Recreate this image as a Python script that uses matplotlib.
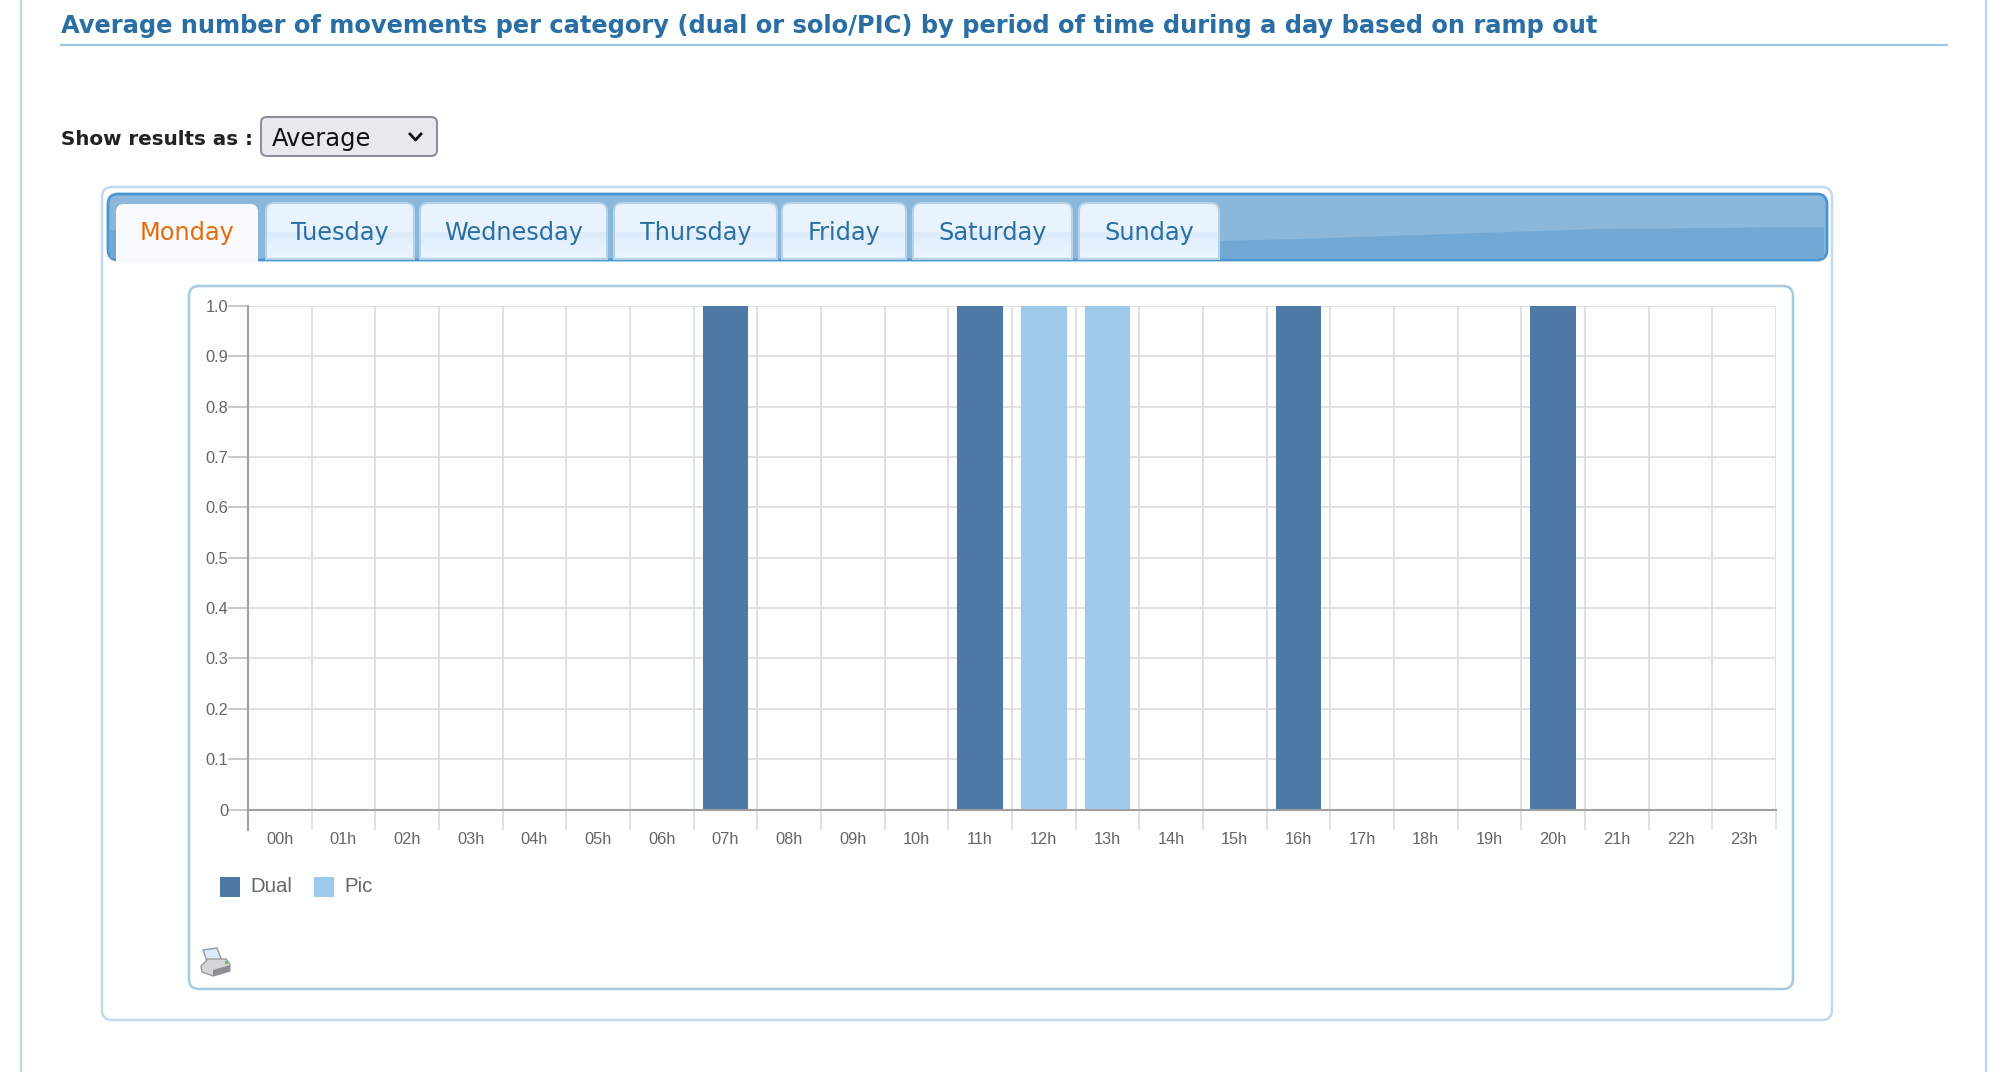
import numpy as np
import matplotlib
matplotlib.use("Agg")
import matplotlib.pyplot as plt
from matplotlib.patches import FancyBboxPatch, Rectangle, Polygon, PathPatch
from matplotlib.path import Path

hours = ['00h', '01h', '02h', '03h', '04h', '05h', '06h', '07h', '08h', '09h', '10h', '11h',
         '12h', '13h', '14h', '15h', '16h', '17h', '18h', '19h', '20h', '21h', '22h', '23h']
dual = [0, 0, 0, 0, 0, 0, 0, 1, 0, 0, 0, 1, 0, 0, 0, 0, 1, 0, 0, 0, 1, 0, 0, 0]
pic = [0, 0, 0, 0, 0, 0, 0, 0, 0, 0, 0, 0, 1, 1, 0, 0, 0, 0, 0, 0, 0, 0, 0, 0]
y_ticks = [0, 0.1, 0.2, 0.3, 0.4, 0.5, 0.6, 0.7, 0.8, 0.9, 1.0]
y_labels = ['0', '0.1', '0.2', '0.3', '0.4', '0.5', '0.6', '0.7', '0.8', '0.9', '1.0']
days = ['Monday', 'Tuesday', 'Wednesday', 'Thursday', 'Friday', 'Saturday', 'Sunday']
tab_left = [116, 266, 420, 614, 782, 913, 1079]
tab_right = [258, 414, 607, 777, 906, 1072, 1219]

W, H = 2010, 1072
DUAL_COLOR = '#4e79a7'
PIC_COLOR = '#a0caeb'
BG = '#fdfefe'

fig = plt.figure(figsize=(W / 100, H / 100), dpi=100, facecolor=BG)

# page furniture, in pixel coordinates
bg = fig.add_axes([0, 0, 1, 1])
bg.set_xlim(0, W)
bg.set_ylim(H, 0)
bg.axis('off')


def rounded(x0, y0, x1, y1, r=8, **kw):
    p = FancyBboxPatch((x0 + r, y0 + r), x1 - x0 - 2 * r, y1 - y0 - 2 * r,
                       boxstyle=f'round,pad={r},rounding_size={r}', **kw)
    bg.add_patch(p)
    return p


def top_rounded(x0, y0, x1, y1, r=8):
    verts = [(x0, y1), (x0, y0 + r), (x0, y0), (x0 + r, y0), (x1 - r, y0), (x1, y0), (x1, y0 + r), (x1, y1), (x0, y1)]
    codes = [Path.MOVETO, Path.LINETO, Path.CURVE3, Path.CURVE3, Path.LINETO, Path.CURVE3, Path.CURVE3, Path.LINETO, Path.CLOSEPOLY]
    return Path(verts, codes)


# side rules of the page
bg.plot([20.5, 20.5], [0, H], color='#bcd6ec', lw=1.6)
bg.plot([1986, 1986], [0, H], color='#bcd6ec', lw=1.6)

bg.text(61, 33, 'Average number of movements per category (dual or solo/PIC) by period of time during a day based on ramp out',
        fontsize=17.33, fontweight='bold', color='#2a6ea3', family='DejaVu Sans', va='baseline')
bg.plot([61, 1947], [45, 45], color='#9fc6e4', lw=1.6)

bg.text(61, 145, 'Show results as :', fontsize=14.3, fontweight='bold', color='#222222', family='DejaVu Sans', va='baseline')
rounded(261, 117, 437, 156, r=6, fc='#e9e8ed', ec='#8f8d9c', lw=1.5)
bg.text(272, 146, 'Average', fontsize=17.4, color='#111111', family='DejaVu Sans', va='baseline')
bg.plot([410, 415.5, 421], [134, 140, 134], color='#111111', lw=2)

# outer panel and tab bar
rounded(102, 187, 1832, 1020, r=10, fc=BG, ec='#c4daec', lw=1.8)
rounded(108, 194, 1827, 260, r=10, fc='#8ab7da', ec='#4a96d3', lw=2, zorder=2)
wave = [(1219, 258), (1219, 241), (1300, 239), (1450, 234), (1600, 229), (1824, 227), (1824, 258)]
bg.add_patch(Polygon(wave, closed=True, fc='#72a9d4', ec='none', zorder=2.1))
bg.add_patch(Rectangle((110, 230), 8, 28, fc='#72a9d4', ec='none', zorder=2.1))

for i, day in enumerate(days):
    x0, x1 = tab_left[i], tab_right[i]
    if i == 0:
        bg.add_patch(PathPatch(top_rounded(x0, 204, x1, 262), fc='#f8fafd', ec='none', zorder=3))
        color = '#e36c09'
    else:
        bg.add_patch(PathPatch(top_rounded(x0, 203, x1, 259), fc='#e9f3fd', ec='#b5d2ea', lw=1.5, zorder=3))
        # soft band across the lower half of the tab
        bg.add_patch(Rectangle((x0 + 1, 232), x1 - x0 - 2, 6, fc='#dcecfb', ec='none', zorder=3.1))
        bg.add_patch(Rectangle((x0 + 1, 238), x1 - x0 - 2, 6, fc='#e1eefb', ec='none', zorder=3.1))
        bg.add_patch(Rectangle((x0 + 1, 244), x1 - x0 - 2, 6, fc='#e5f1fc', ec='none', zorder=3.1))
        color = '#2a6ea3'
    bg.text((x0 + x1) / 2, 240, day, fontsize=17.3, color=color, family='DejaVu Sans',
            ha='center', va='baseline', zorder=4)

# chart panel
rounded(189, 286, 1793, 989, r=10, fc=BG, ec='#a6c9e4', lw=1.8)

# legend
bg.add_patch(Rectangle((220, 877), 20, 20, fc=DUAL_COLOR, ec='none'))
bg.text(250, 887, 'Dual', fontsize=14.7, color='#666666', family='Liberation Sans', va='center')
bg.add_patch(Rectangle((314, 877), 20, 20, fc=PIC_COLOR, ec='none'))
bg.text(344, 887, 'Pic', fontsize=14.7, color='#666666', family='Liberation Sans', va='center')

# printer icon
bg.add_patch(Polygon([(203, 950), (217, 948), (222, 961), (208, 964)], fc='#dcebf7', ec='#8e9aa5', lw=1))
bg.add_patch(Polygon([(201, 966), (208, 959), (226, 959), (230, 964), (230, 971), (213, 976), (202, 972)],
                     fc='#d4d6d8', ec='#9a9ea2', lw=1))
bg.add_patch(Polygon([(213, 970), (230, 965), (230, 971), (213, 976)], fc='#8b8f93', ec='none'))
bg.add_patch(Rectangle((225, 961), 2.5, 2.5, fc='#6cc04a', ec='none'))

# the chart itself
ax_left, ax_right, ax_top, ax_bottom = 248, 1776, 306, 809.5
ax = fig.add_axes([ax_left / W, 1 - ax_bottom / H, (ax_right - ax_left) / W, (ax_bottom - ax_top) / H])
ax.patch.set_alpha(0)

x = np.arange(len(hours)) + 0.5
ax.bar(x, dual, width=0.72, color=DUAL_COLOR, zorder=3, label='Dual')
ax.bar(x, pic, width=0.72, color=PIC_COLOR, zorder=3, label='Pic')

ax.set_xlim(0, 24)
ax.set_ylim(0, 1)
ax.set_yticks(y_ticks)
ax.set_yticklabels(y_labels)
ax.set_xticks(np.arange(25))
ax.set_xticklabels([])
ax.set_xticks(x, minor=True)
ax.set_xticklabels(hours, minor=True)
ax.grid(True, which='major', color='#dcdcdc', lw=1.2, zorder=1)
ax.set_axisbelow(True)

ax.tick_params(axis='x', which='major', length=14.4, color='#dcdcdc', width=1.2)
ax.tick_params(axis='x', which='minor', length=0, pad=16, labelsize=11.8, labelcolor='#666666')
ax.tick_params(axis='y', length=14.4, color='#c0c0c0', width=1.2, pad=0, labelsize=11.8, labelcolor='#666666')
for lab in ax.get_xticklabels(minor=True) + ax.get_yticklabels():
    lab.set_family('Liberation Sans')

ax.spines['top'].set_visible(False)
ax.spines['right'].set_visible(False)
ax.spines['left'].set_color('#a0a0a0')
ax.spines['bottom'].set_color('#a0a0a0')
ax.spines['left'].set_linewidth(1.5)
ax.spines['bottom'].set_linewidth(1.5)
ax.spines['left'].set_bounds(-20 / (ax_bottom - ax_top), 1)
ax.spines['left'].set_zorder(4)
ax.spines['bottom'].set_zorder(4)

fig.savefig('out.png', dpi=100, facecolor=BG)
